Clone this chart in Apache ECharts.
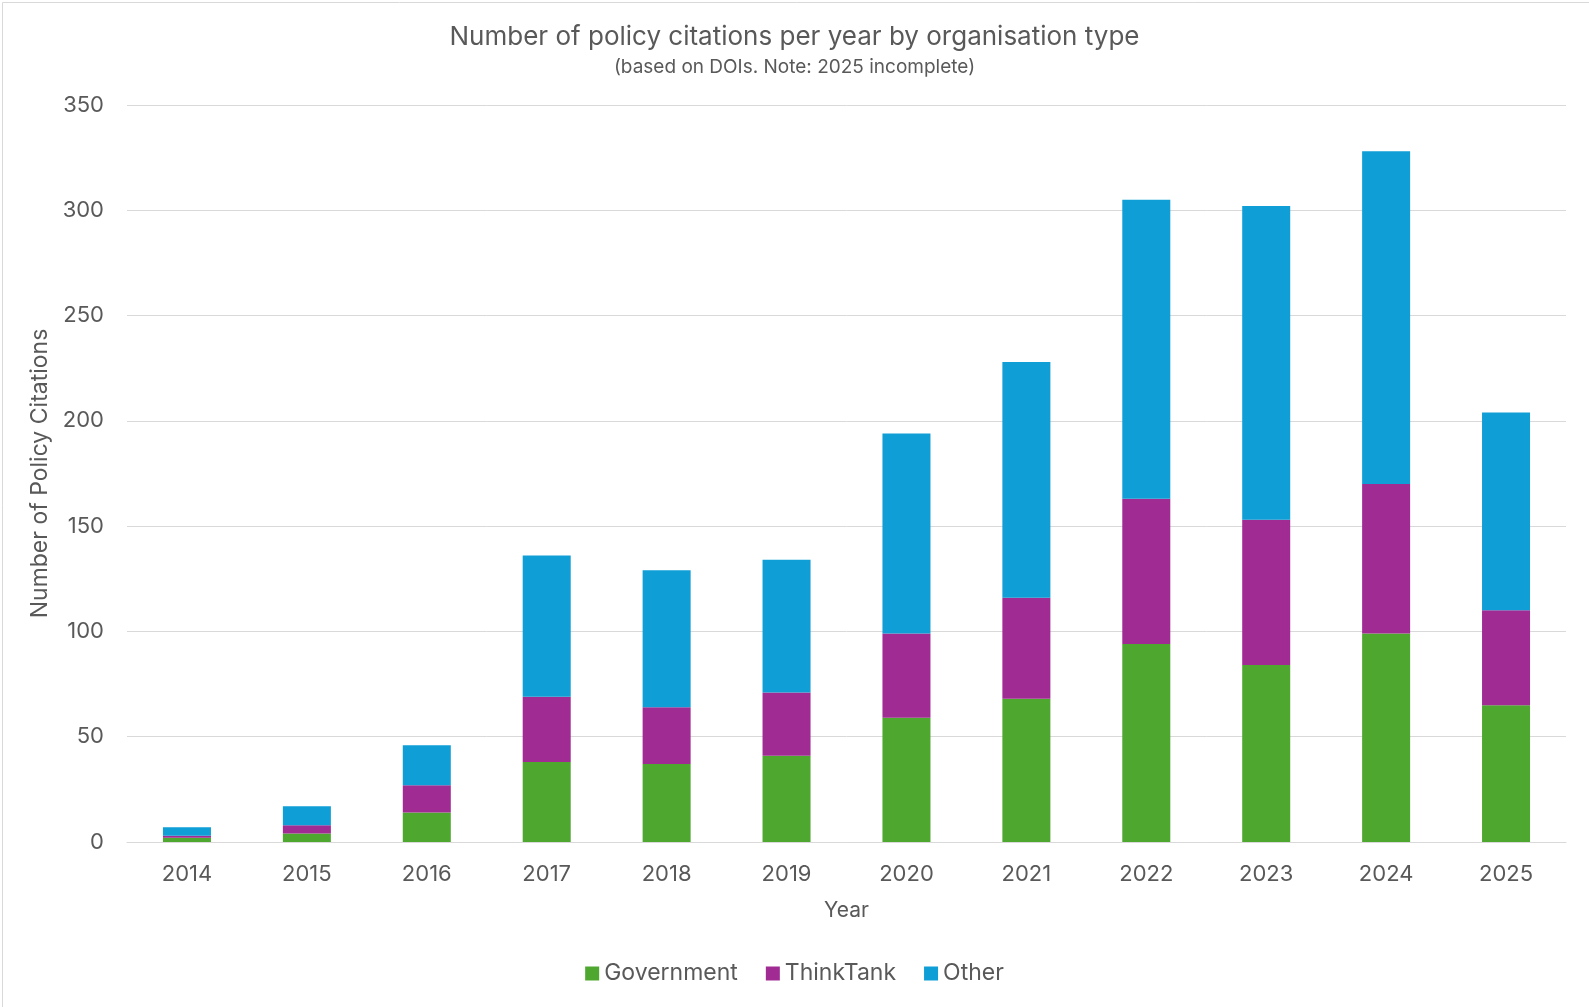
<!DOCTYPE html>
<html>
<head>
<meta charset="utf-8">
<script src="https://cdn.jsdelivr.net/npm/echarts@6/dist/echarts.min.js"></script>
<style>
html,body{margin:0;padding:0;background:#fff;}
#chart{width:1589px;height:1007px;}
</style>
</head>
<body>
<div id="chart"></div>
<script>
const years = ['2014','2015','2016','2017','2018','2019','2020','2021','2022','2023','2024','2025'];
const government = [2, 4, 14, 38, 37, 41, 59, 68, 94, 84, 99, 65];
const thinkTank = [1, 4, 13, 31, 27, 30, 40, 48, 69, 69, 71, 45];
const other = [4, 9, 19, 67, 65, 63, 95, 112, 142, 149, 158, 94];
const yTicks = [0, 50, 100, 150, 200, 250, 300, 350];

const FONT = 'Inter, "Open Sans", sans-serif';
const TXT = '#595959';
const chart = echarts.init(document.getElementById('chart'));
chart.setOption({
  animation: false,
  backgroundColor: '#fff',
  textStyle: {fontFamily: FONT, color: TXT},
  title: {
    text: 'Number of policy citations per year by organisation type',
    subtext: '(based on DOIs. Note: 2025 incomplete)',
    left: 'center', top: 19, itemGap: 8,
    textStyle: {fontFamily: FONT, fontSize: 26, fontWeight: 'normal', color: TXT},
    subtextStyle: {fontFamily: FONT, fontSize: 19, color: TXT}
  },
  graphic: [{
    type: 'rect', left: 0, top: 0,
    shape: {x: 0.5, y: 0.5, width: 1588, height: 1006},
    style: {fill: 'none', stroke: '#d9d9d9', lineWidth: 1}, silent: true
  }],
  legend: {
    bottom: 17, left: 'center', itemWidth: 14, itemHeight: 14, itemGap: 28,
    icon: 'rect',
    textStyle: {fontFamily: FONT, fontSize: 23, color: TXT},
    data: ['Government', 'ThinkTank', 'Other']
  },
  grid: {left: 127, right: 23, top: 105, bottom: 165, containLabel: false},
  xAxis: {
    type: 'category', data: years,
    name: 'Year', nameLocation: 'middle', nameGap: 58,
    nameTextStyle: {fontFamily: FONT, fontSize: 21, color: TXT},
    axisLine: {lineStyle: {color: '#d9d9d9', width: 1}},
    axisTick: {show: false},
    axisLabel: {fontFamily: FONT, fontSize: 22, color: TXT, margin: 21}
  },
  yAxis: {
    type: 'value', min: 0, max: 350, interval: 50,
    name: 'Number of Policy Citations', nameLocation: 'middle', nameGap: 73,
    nameTextStyle: {fontFamily: FONT, fontSize: 23, color: TXT},
    axisLine: {show: false}, axisTick: {show: false},
    axisLabel: {fontFamily: FONT, fontSize: 22, color: TXT, margin: 23,
      formatter: v => yTicks.includes(v) ? String(v) : ''},
    splitLine: {lineStyle: {color: '#d9d9d9', width: 1}}
  },
  series: [
    {name: 'Government', type: 'bar', stack: 't', data: government, barWidth: 48, itemStyle: {color: '#4ea72e'}},
    {name: 'ThinkTank', type: 'bar', stack: 't', data: thinkTank, barWidth: 48, itemStyle: {color: '#a02b93'}},
    {name: 'Other', type: 'bar', stack: 't', data: other, barWidth: 48, itemStyle: {color: '#0f9ed5'}}
  ]
});
</script>
</body>
</html>
